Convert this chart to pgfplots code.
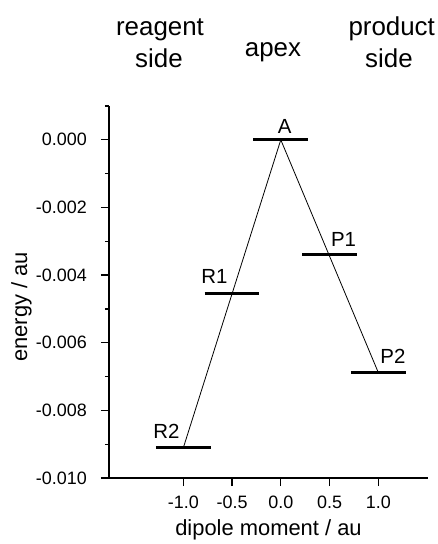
\documentclass[border=0pt]{standalone}
\usepackage{pgfplots}
\pgfplotsset{compat=1.18}
\usepackage{fontspec}
\setmainfont{Liberation Sans}
\begin{document}
\begin{tikzpicture}
\useasboundingbox (-109bp,-66bp) rectangle (329bp,478bp);
\begin{axis}[
  at={(0,0)}, anchor=south west,
  scale only axis, width=319bp, height=372bp,
  xmin=-1.762, xmax=1.51, ymin=-0.010, ymax=0.001,
  axis x line*=bottom, axis y line*=left,
  axis line style={line width=1.2bp},
  tick align=outside,
  major tick length=8bp, minor tick length=4bp,
  every tick/.style={black, line width=1.2bp},
  xtick={-1,-0.5,0,0.5,1}, xticklabels={-1.0,-0.5,0.0,0.5,1.0},
  ytick={-0.010,-0.008,-0.006,-0.004,-0.002,0},
  yticklabels={-0.010,-0.008,-0.006,-0.004,-0.002,0.000},
  minor ytick={-0.009,-0.007,-0.005,-0.003,-0.001,0.001},
  scaled y ticks=false, scaled x ticks=false,
  tick label style={font=\fontsize{18}{20}\selectfont},
  xticklabel style={anchor=base, yshift=-22bp},
  yticklabel style={anchor=east, inner sep=0pt, xshift=-14bp},
  xlabel={dipole moment / au}, ylabel={energy / au},
  every axis x label/.style={at={(axis description cs:0.5,-0.148)}, anchor=base, yshift=-2bp, font=\fontsize{22}{26}\selectfont},
  every axis y label/.style={at={(axis description cs:-0.257,0.46)}, anchor=base, rotate=90, font=\fontsize{22}{26}\selectfont},
  clip=false,
]
\addplot[black, line width=0.8bp] coordinates {(-1,-0.00911) (0,0) (1,-0.00688)};
\addplot[black, line width=3bp] coordinates {(-0.28,0) (0.28,0)};
\addplot[black, line width=3bp] coordinates {(-0.78,-0.00453) (-0.22,-0.00453)};
\addplot[black, line width=3bp] coordinates {(0.22,-0.0034) (0.78,-0.0034)};
\addplot[black, line width=3bp] coordinates {(0.72,-0.00688) (1.28,-0.00688)};
\addplot[black, line width=3bp] coordinates {(-1.28,-0.00911) (-0.72,-0.00911)};
\node[anchor=base, yshift=6.7bp, font=\fontsize{20.5}{24}\selectfont] at (axis cs:0.04,0) {A};
\node[anchor=base, yshift=10bp, font=\fontsize{20.5}{24}\selectfont] at (axis cs:-0.68,-0.00453) {R1};
\node[anchor=base, yshift=8.3bp, font=\fontsize{20.5}{24}\selectfont] at (axis cs:0.644,-0.0034) {P1};
\node[anchor=base, yshift=9.3bp, font=\fontsize{20.5}{24}\selectfont] at (axis cs:1.15,-0.00688) {P2};
\node[anchor=base, yshift=9bp, font=\fontsize{20.5}{24}\selectfont] at (axis cs:-1.174,-0.00911) {R2};
\end{axis}
\node[anchor=base, font=\fontsize{26}{30}\selectfont] at (51bp,442.3bp) {reagent};
\node[anchor=base, font=\fontsize{26}{30}\selectfont] at (50bp,410.3bp) {side};
\node[anchor=base, font=\fontsize{26}{30}\selectfont] at (164bp,421.3bp) {apex};
\node[anchor=base, font=\fontsize{26}{30}\selectfont] at (282.7bp,442.3bp) {product};
\node[anchor=base, font=\fontsize{26}{30}\selectfont] at (280bp,410.3bp) {side};
\end{tikzpicture}
\end{document}
